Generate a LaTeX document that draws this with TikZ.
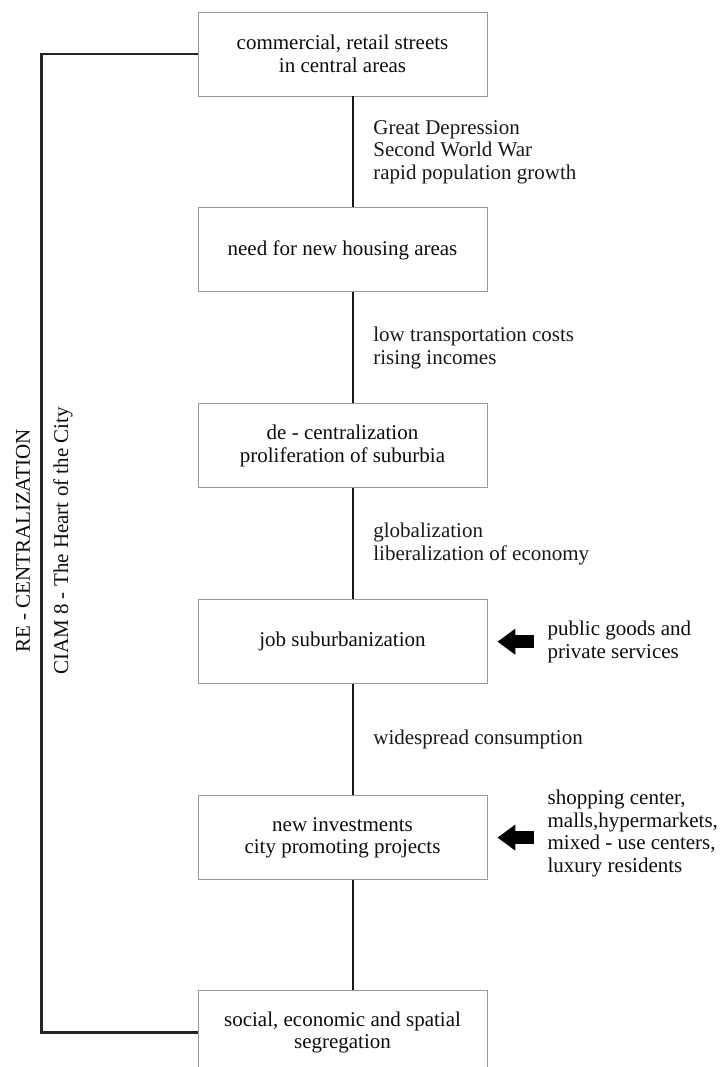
\documentclass[tikz,border=0pt]{standalone}
\usepackage{fontspec}
\setmainfont{Liberation Serif}
\usetikzlibrary{positioning,calc,arrows.meta}
\tikzset{
  stage/.style={draw=black!40,line width=0.9pt,minimum width=289pt,minimum height=84pt,align=center,inner sep=4pt},
  cause/.style={align=left,inner sep=3pt},
  link/.style={line width=2.8pt,black!90},
  frame/.style={line width=2.8pt,black!85},
  push/.style={line width=13pt,-{Triangle[length=18pt,width=25pt]}},
}

\begin{document}
\begin{tikzpicture}[x=1pt,y=-1pt,font=\fontsize{21}{22.5}\selectfont,text=black!95]
\useasboundingbox (0,0) rectangle (720,1067);

% the chain of stages
\node [stage] (commercial) at (342.5,54) {commercial, retail streets\\in central areas};
\node [stage, below=111pt of commercial] (housing) {need for new housing areas};
\node [stage, below=111pt of housing] (decentral) {de - centralization\\proliferation of suburbia};
\node [stage, below=111pt of decentral] (jobs) {job suburbanization};
\node [stage, below=111pt of jobs] (projects) {new investments\\city promoting projects};
\node [stage, below=110pt of projects] (segregation) {social, economic and spatial\\segregation};

% links with their causes
\draw [link] ([xshift=10.5pt]commercial.south) -- ([xshift=10.5pt]housing.north)
  node [cause, midway, right=16pt] (depression) {Great Depression\\Second World War\\rapid population growth};
\draw [link] ([xshift=10.5pt]housing.south) -- ([xshift=10.5pt]decentral.north)
  node [cause, midway, right=16pt] (costs) {low transportation costs\\rising incomes};
\draw [link] ([xshift=10.5pt]decentral.south) -- ([xshift=10.5pt]jobs.north)
  node [cause, midway, right=16pt] (global) {globalization\\liberalization of economy};
\draw [link] ([xshift=10.5pt]jobs.south) -- ([xshift=10.5pt]projects.north)
  node [cause, midway, right=16pt] (consumption) {widespread consumption};
\draw [link] ([xshift=10.5pt]projects.south) -- ([xshift=10.5pt]segregation.north);

% side inputs
\node [cause, right=57pt of jobs] (goods) {public goods and\\private services};
\node [cause, right=57pt of projects, yshift=4pt] (retail) {shopping center,\\malls,hypermarkets,\\mixed - use centers,\\luxury residents};
\draw [push] ([xshift=-10pt]goods.west) -- ([xshift=10pt]jobs.east);
\draw [push] ([xshift=-10pt,yshift=-4pt]retail.west) -- ([xshift=10pt]projects.east);

% return loop
\draw [frame] (commercial.west) -- ++(-156pt,0) |- (segregation.west);
\node [rotate=90] (recentral) at (23,541) {RE - CENTRALIZATION};
\node [rotate=90] (ciam) at (63,541) {CIAM 8 - The Heart of the City};
\end{tikzpicture}
\end{document}
